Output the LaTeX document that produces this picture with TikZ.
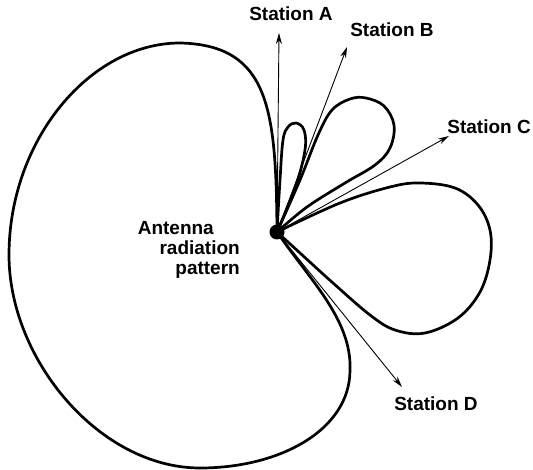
\documentclass[tikz,border=0pt]{standalone}
\usepackage{fontspec}
\setmainfont{Liberation Sans}
\usetikzlibrary{arrows.meta,positioning}

\begin{document}
\begin{tikzpicture}[
    x=1pt, y=-1pt,
    lobe/.style={line width=2.7pt, line join=round},
    beam/.style={-{Stealth[length=11pt, width=6pt]}, line width=0.9pt},
    stationlabel/.style={font=\fontsize{19}{20}\selectfont\bfseries, inner sep=0pt}
]
\useasboundingbox (0,0) rectangle (533,470);
% lobes of the pattern
\draw[lobe] (277,232) .. controls (310,280) and (352,320) .. (350,370)
    .. controls (350,430) and (280,468) .. (200,468)
    .. controls (100,468) and (9,360) .. (9,255)
    .. controls (9,140) and (90,43) .. (180,43)
    .. controls (270,45) and (276,110) .. (277,232);
\draw[lobe] plot[smooth, tension=0.6] coordinates {(277,232) (280,180) (283,140) (288,127) (296,123) (304,130) (305,150) (296,185) (277,232)};
\draw[lobe] plot[smooth, tension=0.6] coordinates {(277,232) (300,180) (318,135) (332,110) (350,99) (366,98) (384,106) (394,125) (390,148) (375,165) (345,183) (307,207) (277,232)};
\draw[lobe] plot[smooth, tension=0.6] coordinates {(277,232) (340,203) (390,187) (420,183) (455,188) (478,205) (490,230) (490,260) (480,292) (458,318) (425,333) (395,330) (370,315) (333,283) (300,253) (277,232)};
\node[circle, fill, inner sep=0pt, minimum size=15pt] (ant) at (277,232) {};
\coordinate (tipA) at (279,33);
\coordinate (tipB) at (347,47);
\coordinate (tipC) at (449,136);
\coordinate (tipD) at (402,387);
\draw[beam] (ant) -- (tipA);
\draw[beam] (ant) -- (tipB);
\draw[beam] (ant) -- (tipC);
\draw[beam] (ant) -- (tipD);
\node[stationlabel] (stA) at (291,14) {Station A};
\node[stationlabel] (stB) at (392,30) {Station B};
\node[stationlabel, anchor=east] (stC) at (531,127) {Station C};
\node[stationlabel] (stD) at (436,404) {Station D};
\node[stationlabel, align=right, anchor=north east] (pattern) at (240,221) {Antenna\hspace*{26pt}\\radiation\hspace*{3pt}\\pattern};
\end{tikzpicture}
\end{document}
